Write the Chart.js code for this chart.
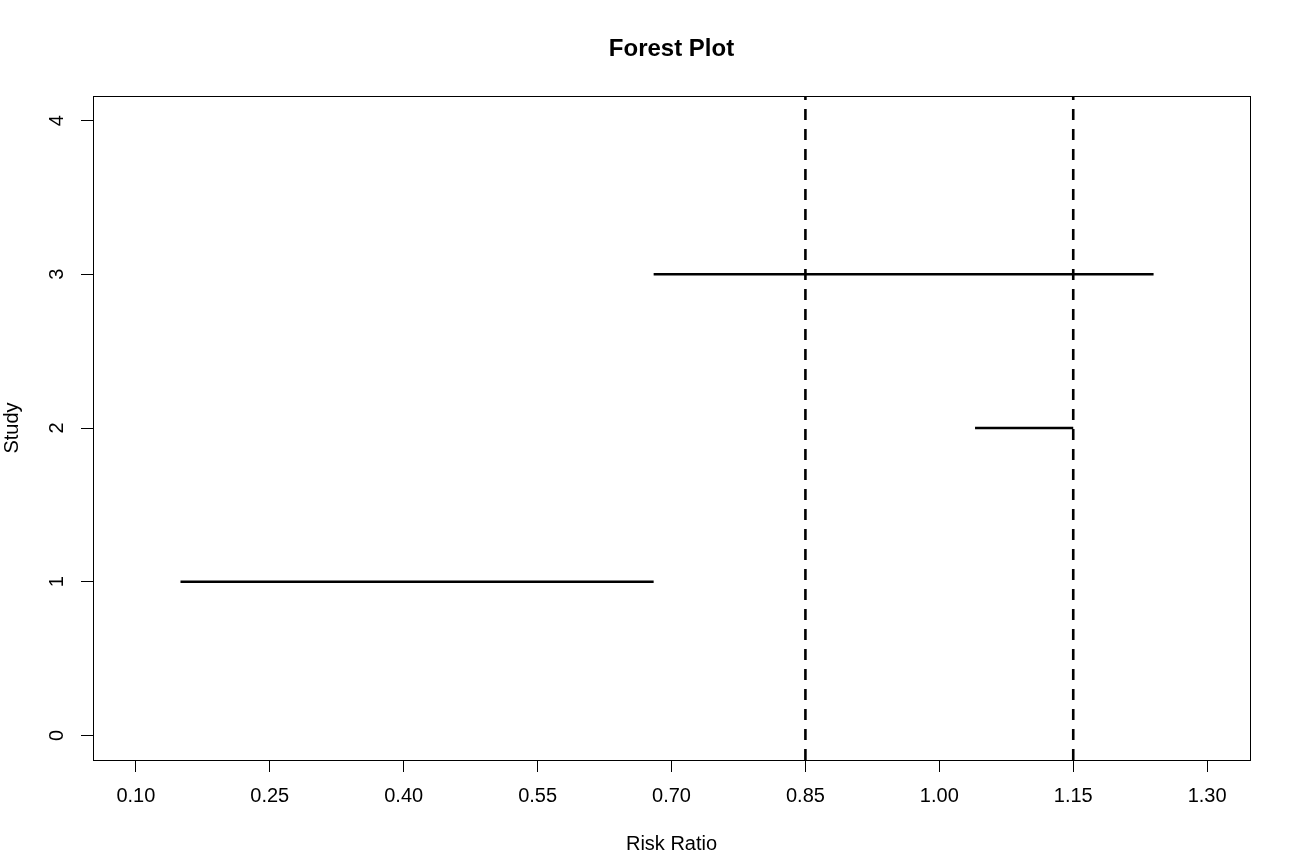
<!DOCTYPE html>
<html>
<head>
<meta charset="utf-8">
<script src="https://cdn.jsdelivr.net/npm/chart.js@4/dist/chart.umd.min.js"></script>
<style>
  body { margin: 0; background: #fff; }
  #wrap { width: 1293px; height: 856px; position: relative; }
</style>
</head>
<body>
<div id="wrap"><canvas id="myChart"></canvas></div>
<script>
// study intervals (risk ratio)
const studies = [1, 2, 3];
const lower = [0.15, 1.04, 0.68];
const upper = [0.68, 1.15, 1.24];
// dashed reference lines
const refLines = [0.85, 1.15];
const xTicks = [0.10, 0.25, 0.40, 0.55, 0.70, 0.85, 1.00, 1.15, 1.30];
const yTicks = [0, 1, 2, 3, 4];

const xMin = 0.052, xMax = 1.348;
const yMin = -0.16, yMax = 4.16;

const font = 'Liberation Sans, Arial, sans-serif';

const datasets = [];
studies.forEach((s, i) => {
  datasets.push({
    data: [{x: lower[i], y: s}, {x: upper[i], y: s}],
    borderColor: '#000',
    borderWidth: 2.6,
    pointRadius: 0,
    showLine: true
  });
});
refLines.forEach(v => {
  datasets.push({
    data: [{x: v, y: yMin}, {x: v, y: yMax}],
    borderColor: '#000',
    borderWidth: 2.6,
    borderDash: [11, 9],
    pointRadius: 0,
    showLine: true
  });
});

// box round the plot region
const boxPlugin = {
  id: 'box',
  afterDraw(chart) {
    const {ctx, chartArea: a} = chart;
    ctx.save();
    ctx.strokeStyle = '#000';
    ctx.lineWidth = 1;
    ctx.strokeRect(a.left + 0.5, a.top + 0.5, a.right - a.left, a.bottom - a.top);
    ctx.restore();
  }
};

const config = {
  type: 'scatter',
  data: { datasets },
  options: {
    responsive: true,
    maintainAspectRatio: false,
    animation: false,
    layout: { padding: { left: 0, right: 43, top: 0, bottom: 0 } },
    plugins: {
      legend: { display: false },
      tooltip: { enabled: false },
      title: {
        display: true,
        text: 'Forest Plot',
        fullSize: false,
        color: '#000',
        font: { family: font, size: 24, weight: 'bold' },
        padding: { top: 35, bottom: 32.2 }
      }
    },
    scales: {
      x: {
        type: 'linear',
        min: xMin,
        max: xMax,
        afterBuildTicks: s => { s.ticks = xTicks.map(v => ({value: v})); },
        afterFit: s => { s.height = 96; },
        ticks: {
          color: '#000',
          font: { family: font, size: 20 },
          padding: 12,
          maxRotation: 0,
          callback: v => v.toFixed(2)
        },
        grid: { drawOnChartArea: false, drawTicks: true, tickLength: 12, color: '#000', lineWidth: 1 },
        border: { display: false },
        title: {
          display: true,
          text: 'Risk Ratio',
          color: '#000',
          font: { family: font, size: 20 },
          padding: { top: 0, bottom: 0 }
        }
      },
      y: {
        type: 'linear',
        min: yMin,
        max: yMax,
        afterBuildTicks: s => { s.ticks = yTicks.map(v => ({value: v})); },
        afterFit: s => { s.width = 93; },
        ticks: {
          color: '#000',
          font: { family: font, size: 20 },
          padding: 18,
          minRotation: 90,
          maxRotation: 90,
          crossAlign: 'center',
          callback: v => String(v)
        },
        grid: { drawOnChartArea: false, drawTicks: true, tickLength: 12, color: '#000', lineWidth: 1 },
        border: { display: false },
        title: {
          display: true,
          text: 'Study',
          color: '#000',
          font: { family: font, size: 20 },
          padding: { top: 0, bottom: 0 }
        }
      }
    }
  },
  plugins: [boxPlugin]
};

const myChart = new Chart(document.getElementById('myChart'), config);
</script>
</body>
</html>
